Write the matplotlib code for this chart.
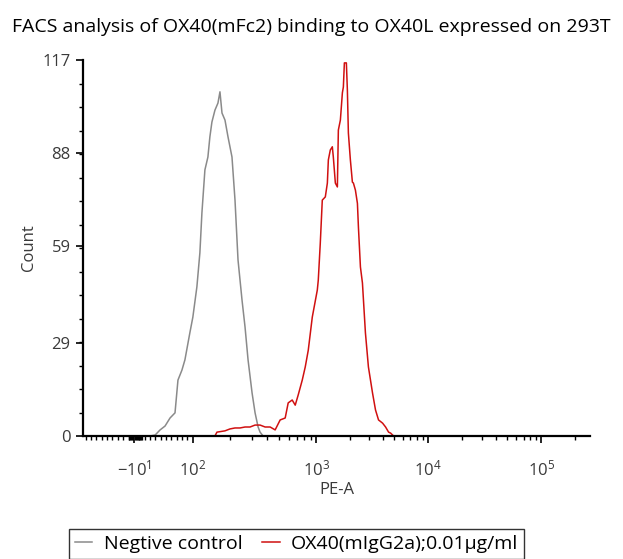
import numpy as np
import matplotlib
matplotlib.use("Agg")
import matplotlib.pyplot as plt

plt.rcParams['font.family'] = ['Open Sans', 'DejaVu Sans']
plt.rcParams['mathtext.default'] = 'regular'

# histogram readings (PE-A value, count)
neg_x = [20.4, 29.6, 38.9, 48.1, 57.4, 66.7, 72.2, 79.6, 85.2, 94.4, 100, 107.8, 114, 118.4,
         125.2, 132.4, 137.4, 142.7, 151, 159.7, 165.8, 172.2, 182.1, 192.6, 207.5, 219.5,
         232.2, 250.2, 264.7, 280, 301.8, 319.2, 337.7, 350.5, 370.7]
neg_y = [0, 0.3, 1.9, 3.1, 5.6, 7.2, 17.4, 20.5, 23.7, 32.1, 37.0, 46.4, 57.0, 69.4,
         82.8, 86.8, 93.1, 97.7, 101.4, 103.6, 107.1, 100.5, 98.3, 93.1, 86.8, 73.4,
         54.8, 42.3, 33.9, 23.7, 13.4, 7.2, 2.8, 1.2, 0]

ox_x = [151, 156.7, 182, 199.9, 219.5, 241, 264.7, 290.6, 319, 350.5, 384.9, 422.7, 464.2,
        509.7, 559.8, 592, 638, 675, 714, 769.6, 813.9, 861, 928, 1021, 1042, 1086, 1132,
        1205, 1257, 1283, 1336, 1393, 1422, 1483, 1546, 1578, 1645, 1715, 1750, 1787, 1862,
        1901, 1941, 2023, 2109, 2154, 2245, 2340, 2389, 2490, 2596, 2761, 2937, 3197, 3401,
        3620, 3937, 4188, 4457, 4648, 4944]
ox_y = [0, 1.2, 1.6, 2.2, 2.5, 2.5, 2.8, 2.8, 3.4, 3.4, 2.8, 2.8, 1.9,
        5.0, 5.6, 10.3, 11.2, 9.6, 12.8, 17.4, 21.5, 26.7, 37.0, 45.4, 48.5, 60.0, 73.4,
        74.4, 78.7, 85.9, 89.0, 90.0, 86.8, 78.7, 77.5, 95.2, 98.3, 106.8, 108.6, 116.1, 116.1,
        107.7, 94.3, 85.9, 79.0, 78.7, 76.5, 72.4, 65.0, 52.6, 47.6, 32.1, 21.5, 13.4, 8.1,
        5.0, 4.0, 2.8, 1.2, 0.9, 0]

xticks = [-10, 100, 1000, 10000, 100000]
xticklabels = [r'$-10^{1}$', r'$10^{2}$', r'$10^{3}$', r'$10^{4}$', r'$10^{5}$']
yticks = [0, 29, 59, 88, 117]

# biexponential-like display: linear below 100, log above
P = [193, 316, 427, 540, 653]
D = [2, 3, 4, 5, 6]
SLOPE = 0.534


def fwd(x):
    x = np.asarray(x, dtype=float)
    lin = 193 + (x - 100) * SLOPE
    lg = np.interp(np.log10(np.maximum(x, 100)), D, P)
    return np.where(x < 100, lin, lg)


def inv(p):
    p = np.asarray(p, dtype=float)
    lin = 100 + (p - 193) / SLOPE
    lg = 10 ** np.interp(p, P, D)
    return np.where(p < 193, lin, lg)


fig = plt.figure(figsize=(6.23, 5.59), dpi=100)
ax = fig.add_axes([83 / 623, 1 - 436 / 559, 507 / 623, 376 / 559])
ax.set_xscale('function', functions=(fwd, inv))

l1, = ax.plot(neg_x, neg_y, color='#8a8a8a', lw=1.1)
l2, = ax.plot(ox_x, ox_y, color='#d01010', lw=1.1)

ax.set_xlim(-105, 2.7e5)
ax.set_ylim(0, 117)

ax.set_xticks(xticks)
ax.set_xticklabels(xticklabels)
minors = list(np.arange(-100, 100, 10)) + list(np.arange(-20, 7, 2))
for dec in [100, 1000, 10000, 100000]:
    minors += [dec * k for k in range(2, 10)]
ax.set_xticks([m for m in minors if m < 2.7e5], minor=True)
ax.set_yticks(yticks)
ax.set_yticks(np.arange(0, 117, 117 / 16), minor=True)

for s in ['top', 'right']:
    ax.spines[s].set_visible(False)
for s in ['left', 'bottom']:
    ax.spines[s].set_linewidth(1.6)
    ax.spines[s].set_color('black')

ax.tick_params(axis='both', which='major', direction='out', length=5, width=1.2,
               colors='black', labelsize=12, labelcolor='#3a3a3a')
ax.tick_params(axis='both', which='minor', direction='out', length=3, width=1.0, colors='black')
ax.tick_params(axis='x', pad=12)
ax.tick_params(axis='y', pad=4)

ax.set_xlabel('PE-A', fontsize=12, color='#3a3a3a', labelpad=2)
ax.set_ylabel('Count', fontsize=12, color='#3a3a3a', labelpad=4)

fig.text(0.5, 1 - 27 / 559, 'FACS analysis of OX40(mFc2) binding to OX40L expressed on 293T',
         ha='center', va='center', fontsize=14)

fig.legend([l1, l2], ['Negtive control', 'OX40(mIgG2a);0.01\u03bcg/ml'], ncol=2,
           loc='upper left', bbox_to_anchor=(69 / 623, 1 - 529 / 559), borderaxespad=0,
           frameon=True, fancybox=False, edgecolor='black', fontsize=14,
           handlelength=0.9, handletextpad=0.6, columnspacing=1.0, borderpad=0.3)

fig.savefig('out.png', dpi=100)
plt.close(fig)
